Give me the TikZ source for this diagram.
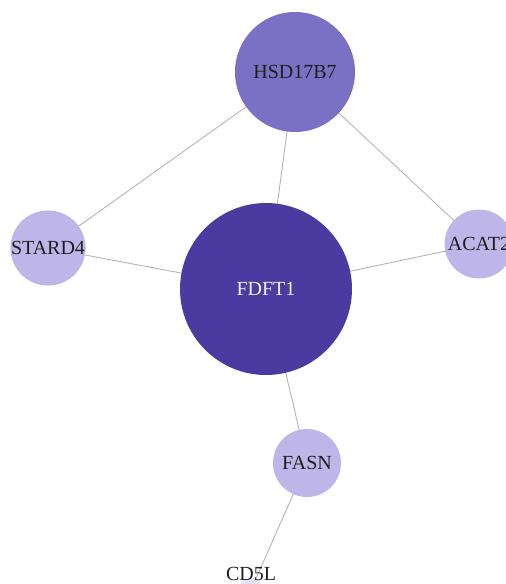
\documentclass[tikz,border=0pt]{standalone}
\usepackage{fontspec}
\setmainfont{Liberation Serif}
\usepackage{tikz}
\usetikzlibrary{backgrounds}
\definecolor{hubpurple}{RGB}{75,59,160}
\definecolor{midpurple}{RGB}{122,112,196}
\definecolor{lightpurple}{RGB}{190,182,232}
\definecolor{palepurple}{RGB}{228,224,246}
\definecolor{edgegray}{RGB}{180,180,180}
\definecolor{labeltext}{RGB}{30,30,30}

\tikzset{
  gene/.style={circle, draw=none, inner sep=0pt, text=labeltext,
    font=\fontsize{20}{24}\selectfont},
  link/.style={draw=edgegray, line width=0.9pt}
}

\begin{document}
\begin{tikzpicture}[x=1pt, y=-1pt]

  % Canvas
  \useasboundingbox (0,0) rectangle (506,584);

  % Genes
  \node[gene, fill=hubpurple, minimum size=172pt, text=white!94!black] (fdft1) at (266,289) {FDFT1};
  \node[gene, fill=midpurple, minimum size=120pt] (hsd17b7) at (295,72) {HSD17B7};
  \node[gene, fill=lightpurple, minimum size=69pt] (stard4) at (48,248) {STARD4};
  \node[gene, fill=lightpurple, minimum size=69pt] (acat2) at (479,244) {ACAT2};
  \node[gene, fill=lightpurple, minimum size=68pt] (fasn) at (307,463) {FASN};
  \node[gene, fill=palepurple, minimum size=24pt] (cd5l) at (251,590) {};
  \node[gene] (cd5llabel) at (251,574) {CD5L};

  % Interactions
  \begin{scope}[on background layer]
    \path[link] (hsd17b7.center) -- (stard4.center);
    \path[link] (hsd17b7.center) -- (fdft1.center);
    \path[link] (hsd17b7.center) -- (acat2.center);
    \path[link] (stard4.center) -- (fdft1.center);
    \path[link] (fdft1.center) -- (acat2.center);
    \path[link] (fdft1.center) -- (fasn.center);
    \path[link] (fasn.center) -- (cd5l.center);
  \end{scope}

\end{tikzpicture}
\end{document}
